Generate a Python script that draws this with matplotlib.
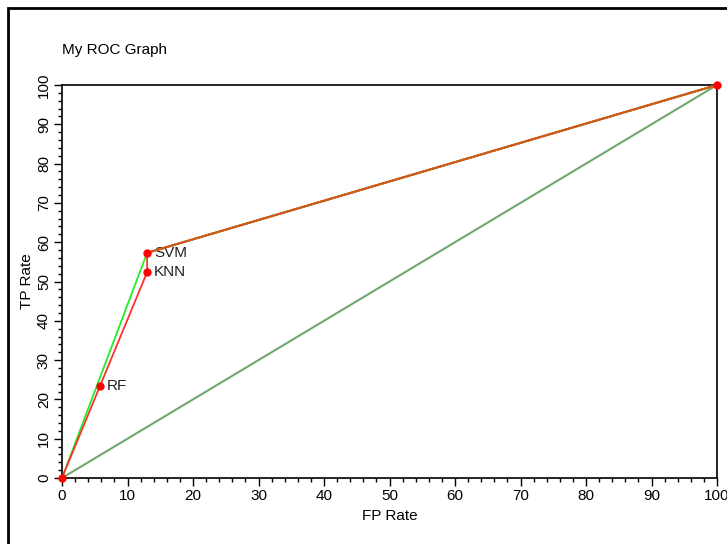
import matplotlib
matplotlib.use("Agg")
from matplotlib import pyplot as plt
from matplotlib.patches import Rectangle

plt.rcParams["font.family"] = ["Liberation Sans", "DejaVu Sans"]

# ROC points (FP rate, TP rate) in percent
labels = ["RF", "KNN", "SVM"]
fp_rate = [5.8, 13.0, 13.0]
tp_rate = [23.4, 52.4, 57.3]

# curves through the classifier points
red_fp = [0, 5.8, 13.0, 13.0, 100]
red_tp = [0, 23.4, 52.4, 57.3, 100]
green_fp = [0, 13.0, 100]
green_tp = [0, 57.3, 100]
diag = [0, 100]

fig = plt.figure(figsize=(7.27, 5.44), dpi=100)
ax = fig.add_axes([62 / 727, 1 - 478 / 544, 655 / 727, 393 / 544])

# outer frame
fig.patches.append(Rectangle((8 / 727, -0.05), 1.1, 1 - 8 / 544 + 0.05,
                             transform=fig.transFigure, fill=False,
                             edgecolor="black", linewidth=2))

ax.plot(diag, diag, color="#6fa86f", linewidth=1.5, zorder=2)
ax.plot(green_fp, green_tp, color="#22ee22", linewidth=1.3, zorder=3)
ax.plot(red_fp, red_tp, color="#ff3030", linewidth=1.3, zorder=4)
ax.plot([13.0, 100], [57.3, 100], color="#cc5a18", linewidth=1.6, zorder=5)

ax.plot([0] + fp_rate + [100], [0] + tp_rate + [100], "o", color="red",
        markersize=5, zorder=6, clip_on=False)
for x, y, lab in zip(fp_rate, tp_rate, labels):
    ax.annotate(lab, (x, y), xytext=(5, 0), textcoords="offset points",
                fontsize=11, va="center", ha="left", color="#222222")

ax.set_xlim(0, 100)
ax.set_ylim(0, 100)
ax.set_xticks(range(0, 101, 10))
ax.set_yticks(range(0, 101, 10))
ax.set_xticks(range(0, 101, 2), minor=True)
ax.set_yticks(range(0, 101, 2), minor=True)
ax.tick_params(which="major", length=6, width=1, labelsize=11, pad=2)
ax.tick_params(which="minor", length=3, width=1)
for t in ax.get_yticklabels():
    t.set_rotation(90)
    t.set_va("center")
for s in ax.spines.values():
    s.set_linewidth(1.2)

ax.set_xlabel("FP Rate", fontsize=11, labelpad=4)
ax.set_ylabel("TP Rate", fontsize=11, labelpad=2)
fig.text(62 / 727, 1 - 50 / 544, "My ROC Graph", fontsize=11,
         ha="left", va="center")

fig.savefig("out.png", dpi=100)
